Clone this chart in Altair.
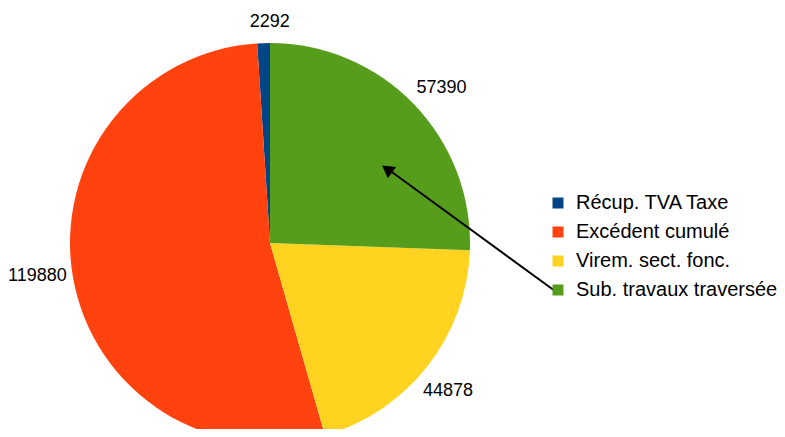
import altair as alt
import pandas as pd

categories = ["Récup. TVA Taxe", "Excédent cumulé", "Virem. sect. fonc.", "Sub. travaux traversée"]
values = [2292, 119880, 44878, 57390]
colors = ["#004586", "#ff420e", "#ffd320", "#579d1c"]
pie_order = [4, 3, 2, 1]  # clockwise from 12 o'clock: green, yellow, red, blue

df = pd.DataFrame({"cat": categories, "value": values, "ord": pie_order})

cx, cy, R = 262, 235, 200
FONT = "Liberation Sans"

arcs = alt.Chart(df).mark_arc(radius=R, stroke=None).encode(
    theta=alt.Theta("value:Q", stack=True),
    order=alt.Order("ord:Q"),
    x=alt.value(cx),
    y=alt.value(cy),
    color=alt.Color(
        "cat:N",
        scale=alt.Scale(domain=categories, range=colors),
        sort=categories,
        legend=alt.Legend(
            title=None,
            orient="none",
            legendX=540,
            legendY=185,
            symbolType="square",
            symbolSize=121,
            symbolStrokeWidth=0,
            labelFont=FONT,
            labelFontSize=20,
            labelColor="#000000",
            labelOffset=8,
            rowPadding=9,
            labelLimit=400,
        ),
    ),
)

labels = (
    alt.Chart(df)
    .transform_joinaggregate(total="sum(value)")
    .transform_window(cum="sum(value)", sort=[alt.SortField("ord")], frame=[None, 0])
    .transform_calculate(mid="(datum.cum - datum.value/2) / datum.total * 2 * PI + 0.031")
    .transform_calculate(lr="221 + 14 * abs(sin(datum.mid))")
    .transform_calculate(
        lx=f"{cx} + datum.lr * sin(datum.mid)",
        ly=f"{cy} - datum.lr * cos(datum.mid)",
    )
    .mark_text(font=FONT, fontSize=18, color="#000000", baseline="middle", align="center")
    .encode(
        x=alt.X("lx:Q", scale=None, axis=None),
        y=alt.Y("ly:Q", scale=None, axis=None),
        text=alt.Text("value:Q", format="d"),
    )
)

arrow_df = pd.DataFrame({"a": [0]})
arrow_line = alt.Chart(arrow_df).mark_rule(color="#000000", strokeWidth=2).encode(
    x=alt.value(547), y=alt.value(283), x2=alt.value(377), y2=alt.value(159)
)
arrow_head = alt.Chart(arrow_df).mark_point(
    shape="triangle-up", filled=True, color="#000000", size=200, angle=306, opacity=1
).encode(x=alt.value(379), y=alt.value(161))

chart = alt.layer(arcs, labels, arrow_line, arrow_head).properties(
    width=769, height=421, padding=0, autosize=alt.AutoSizeParams(type="none")
).configure_view(stroke=None)

chart.save("out.html", embed_options={"renderer": "svg", "actions": False})
